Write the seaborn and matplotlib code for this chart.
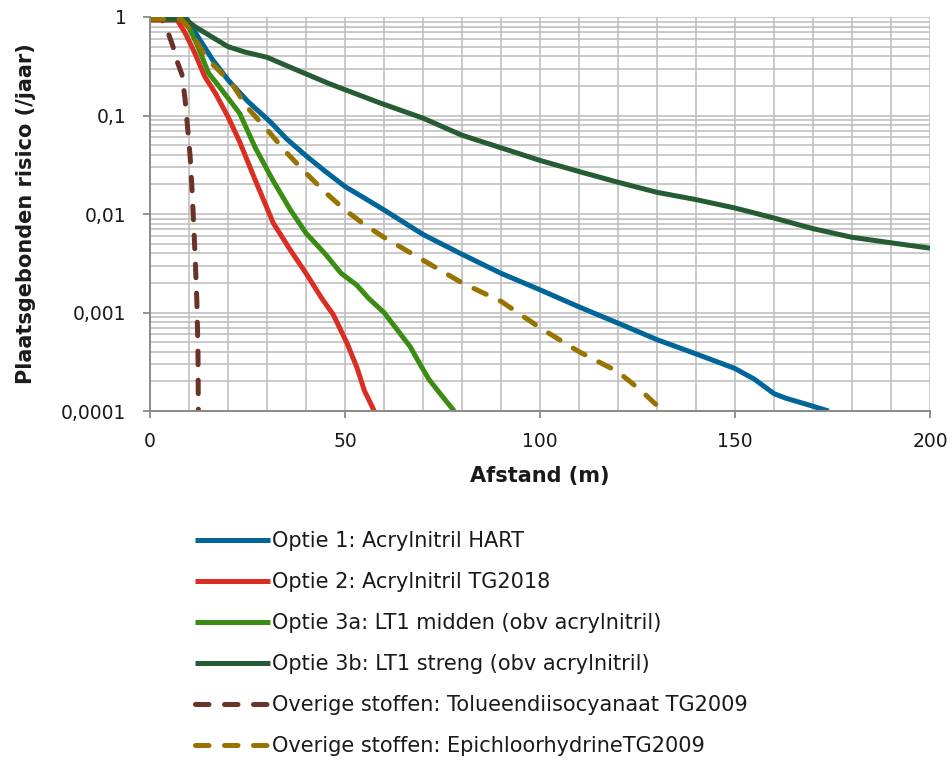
import numpy as np
import pandas as pd
import matplotlib
matplotlib.use("Agg")
import matplotlib.pyplot as plt
from matplotlib.ticker import MultipleLocator, LogLocator, FixedLocator, NullFormatter
import seaborn as sns

# ---------------- data ----------------
names = [
    "Optie 1: Acrylnitril HART",
    "Optie 2: Acrylnitril TG2018",
    "Optie 3a: LT1 midden (obv acrylnitril)",
    "Optie 3b: LT1 streng (obv acrylnitril)",
    "Overige stoffen: Tolueendiisocyanaat TG2009",
    "Overige stoffen: EpichloorhydrineTG2009",
]

d_opt1 = [0, 9.5, 12.3, 16, 20, 25, 31, 35, 40, 45, 50, 55, 60, 70, 80, 90, 100,
          110, 120, 130, 140, 150, 155, 160, 163, 168, 174]
r_opt1 = [0.95, 0.95, 0.63, 0.37, 0.23, 0.14, 0.085, 0.058, 0.039, 0.027, 0.019,
          0.0145, 0.011, 0.0062, 0.0039, 0.0025, 0.0017, 0.00114, 0.00078, 0.00053,
          0.00038, 0.00027, 0.00021, 0.00015, 0.000135, 0.000118, 0.0001]

d_opt2 = [0, 7, 9, 11.5, 14, 16.7, 20, 23, 27, 31.6, 36, 40, 44, 47, 50.5, 53, 55, 57.5]
r_opt2 = [0.93, 0.93, 0.69, 0.43, 0.25, 0.17, 0.097, 0.054, 0.022, 0.0081, 0.0043,
          0.0025, 0.0014, 0.00095, 0.00049, 0.00028, 0.00016, 0.0001]

d_opt3a = [0, 9, 12.3, 15, 18.5, 23, 27, 31.5, 36, 40, 45, 49, 53, 56, 60, 66.7,
           69, 71.5, 75, 78]
r_opt3a = [0.95, 0.95, 0.5, 0.27, 0.18, 0.105, 0.047, 0.022, 0.011, 0.0064, 0.0039,
           0.0025, 0.0019, 0.0014, 0.001, 0.00045, 0.00031, 0.00021, 0.00014, 0.0001]

d_opt3b = [0, 9, 11.5, 15.8, 20, 24.4, 30, 37.6, 46, 59, 70, 80, 90, 100, 110, 120,
           130, 140, 150, 160, 170, 180, 190, 200]
r_opt3b = [0.95, 0.95, 0.8, 0.63, 0.5, 0.44, 0.39, 0.29, 0.21, 0.134, 0.094, 0.063,
           0.047, 0.035, 0.027, 0.021, 0.0166, 0.014, 0.0115, 0.0091, 0.0071, 0.0058,
           0.0051, 0.0045]

d_tdi = [0, 3, 4.4, 5.9, 6.9, 8.2, 9, 9.7, 10.3, 10.8, 11.5, 12, 12.3, 12.4]
r_tdi = [0.95, 0.95, 0.74, 0.5, 0.36, 0.26, 0.145, 0.071, 0.038, 0.017, 0.0043,
         0.00135, 0.00042, 0.0001]

d_epi = [0, 8, 9.7, 13.3, 15.8, 21, 25, 30, 35, 40, 45, 50, 55, 60, 70, 80, 90, 100,
         110, 120, 126, 131.5]
r_epi = [0.95, 0.95, 0.8, 0.46, 0.34, 0.21, 0.12, 0.072, 0.042, 0.026, 0.0165, 0.011,
         0.0078, 0.0058, 0.0034, 0.002, 0.0013, 0.0007, 0.0004, 0.00025, 0.00016, 0.0001]

series_d = [d_opt1, d_opt2, d_opt3a, d_opt3b, d_tdi, d_epi]
series_r = [r_opt1, r_opt2, r_opt3a, r_opt3b, r_tdi, r_epi]

colors = ["#006699", "#d92e21", "#3a8c12", "#265c34", "#6b3327", "#987300"]
dashed = [False, False, False, False, True, True]

y_ticks = [1, 0.1, 0.01, 0.001, 0.0001]
y_ticklabels = ["1", "0,1", "0,01", "0,001", "0,0001"]
x_ticks = [0, 50, 100, 150, 200]

# ---------------- styling ----------------
sns.set_style("white")
plt.rcParams["font.family"] = ["DejaVu Sans"]

fig = plt.figure(figsize=(9.52, 7.63), dpi=100)
ax = fig.add_axes([150 / 952, 1 - 411 / 763, 780 / 952, 394 / 763])

LW = 3.6
for name, d, r, c, dsh in zip(names, series_d, series_r, colors, dashed):
    df = pd.DataFrame({"d": d, "r": r})
    kw = dict(solid_capstyle="butt", solid_joinstyle="round")
    if dsh:
        kw = dict(linestyle=(0, (2.7, 3.1)), dash_capstyle="round",
                  dash_joinstyle="round")
    sns.lineplot(data=df, x="d", y="r", ax=ax, color=c, linewidth=LW,
                 label=name, sort=False, estimator=None, **kw)

ax.set_yscale("log")
ax.set_xlim(0, 200)
ax.set_ylim(0.0001, 1)

ax.xaxis.set_major_locator(FixedLocator(x_ticks))
ax.xaxis.set_minor_locator(MultipleLocator(10))
ax.yaxis.set_major_locator(FixedLocator(y_ticks))
ax.yaxis.set_minor_locator(LogLocator(base=10, subs=np.arange(2, 10)))
ax.yaxis.set_minor_formatter(NullFormatter())
ax.set_yticklabels(y_ticklabels)
ax.set_xticklabels([str(t) for t in x_ticks])

grid_c = "#c0c0c0"
ax.grid(True, which="both", axis="both", color=grid_c, linewidth=1.2)
ax.set_axisbelow(True)

for s in ["top", "right"]:
    ax.spines[s].set_visible(False)
for s in ["left", "bottom"]:
    ax.spines[s].set_color("#8a8a8a")
    ax.spines[s].set_linewidth(1.4)

ax.tick_params(axis="both", which="major", direction="out", length=5,
               width=1.3, color="#8a8a8a", labelsize=13.5, labelcolor="#1a1a1a",
               left=True, bottom=True)
ax.tick_params(axis="x", which="major", pad=10)
ax.tick_params(axis="y", which="major", pad=12)
ax.tick_params(which="minor", length=0)

ax.set_xlabel("Afstand (m)", fontsize=15, fontweight="bold", labelpad=11,
              color="#1a1a1a")
ax.set_ylabel("Plaatsgebonden risico (/jaar)", fontsize=15, fontweight="bold",
              labelpad=18, color="#1a1a1a")

handles, labels = ax.get_legend_handles_labels()
ax.get_legend().remove()
leg = fig.legend(handles, labels, loc="upper left",
                 bbox_to_anchor=(195 / 952, 1 - 531 / 763),
                 frameon=False, fontsize=15, handlelength=3.6,
                 handletextpad=0.1, labelspacing=1.01, borderpad=0,
                 borderaxespad=0)
for t in leg.get_texts():
    t.set_color("#1a1a1a")

fig.savefig("out.png", dpi=100)
